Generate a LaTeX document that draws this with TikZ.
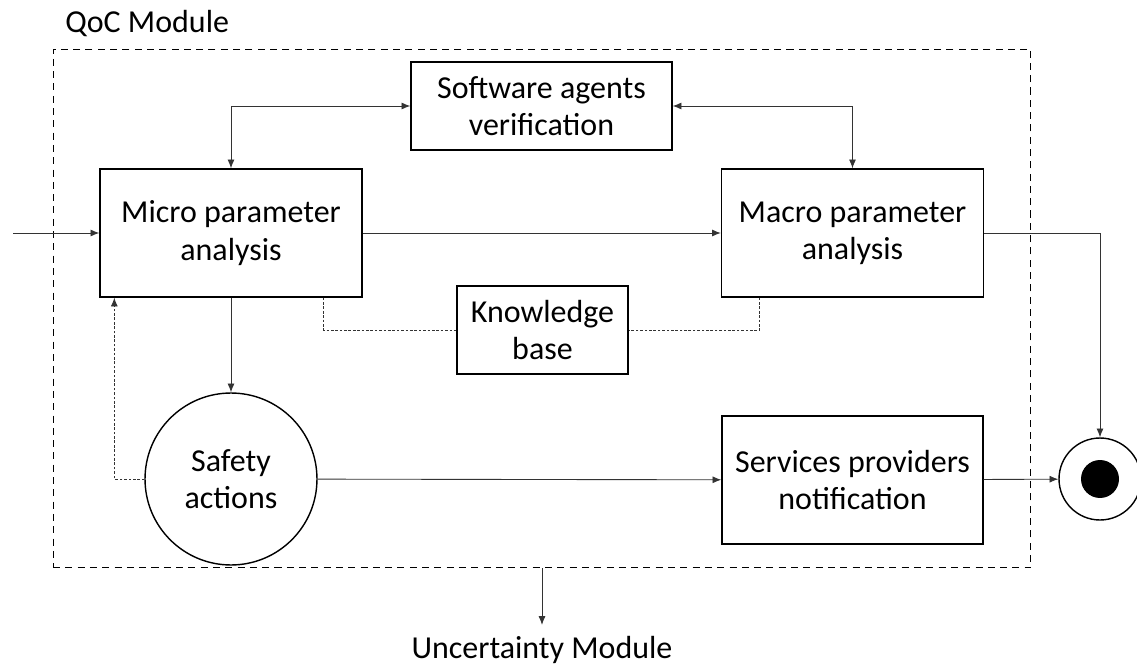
\documentclass[tikz,border=0pt]{standalone}
\usepackage{fontspec}
\setmainfont{Carlito}
\usetikzlibrary{arrows.meta, positioning}

\begin{document}
\begin{tikzpicture}[x=0.02cm, y=-0.02cm,
		txt/.style={font=\fontsize{18.2}{21.2}\selectfont},
		box/.style={draw, line width=0.8pt, align=center, inner sep=0pt, txt},
		conn/.style={draw=black!80, line width=0.5pt, -{Latex[length=5pt,width=4pt]}},
		kb/.style={draw=black!80, line width=0.5pt, dash pattern=on 1.5pt off 1pt}]
				\useasboundingbox (0,0) rectangle (1137,666);
				
				% Module frame
				\node[draw, line width=0.6pt, dash pattern=on 4pt off 3pt,
				minimum width=19.56cm, minimum height=10.38cm] (qoc) at (542,308.5) {};
				\node[txt, anchor=base west, inner sep=0pt] (qoclabel) at (65,32) {QoC Module};
				
				% Boxes
				\node[box, minimum width=5.22cm, minimum height=1.76cm] (agents) at (541.5,106) {Software agents\\verification};
				\node[box, minimum width=5.24cm, minimum height=2.56cm] (micro) at (231,233) {Micro parameter\\analysis};
				\node[box, minimum width=5.24cm, minimum height=2.56cm] (macro) at (852.5,233) {Macro parameter\\analysis};
				\node[box, minimum width=3.42cm, minimum height=1.76cm] (kbase) at (542.5,330) {Knowledge\\base};
				\node[box, circle, minimum size=3.44cm] (safety) at (231,479) {Safety\\actions};
				\node[box, minimum width=5.22cm, minimum height=2.56cm] (services) at (852.5,480) {Services providers\\notification};
				
				% Final state
				\node[draw, circle, line width=0.8pt, minimum size=1.64cm, inner sep=0pt] (final) at (1100,479) {};
				\node[fill, circle, minimum size=0.76cm, inner sep=0pt] (finaldot) at (final.center) {};
				
				% Uncertainty
				\node[txt, anchor=base, inner sep=6pt] (unc) at (542,658) {Uncertainty Module};
				
				% Connectors
				\coordinate (in) at (13,233);
				\draw[conn] (in) -- (micro.west);
				\draw[conn] (micro) -- (macro);
				\draw[conn] (macro.east) -| (final.north);
				\draw[conn] (micro) -- (safety);
				\draw[conn] (safety) -- (services);
				\draw[conn] (services) -- (final);
				\draw[conn, {Latex[length=5pt,width=4pt]}-{Latex[length=5pt,width=4pt]}] (agents.west) -| (micro.north);
				\draw[conn, {Latex[length=5pt,width=4pt]}-{Latex[length=5pt,width=4pt]}] (agents.east) -| (macro.north);
				\draw[conn] (qoc.south) -- (unc.north);
				
				% Knowledge base links
				\draw[kb] ([xshift=-0.78cm]micro.south east) |- (kbase.west);
				\draw[kb] ([xshift=0.78cm]macro.south west) |- (kbase.east);
				\draw[kb, -{Latex[length=5pt,width=4pt]}] (safety.west) -| ([xshift=0.3cm]micro.south west);
			\end{tikzpicture}
\end{document}
